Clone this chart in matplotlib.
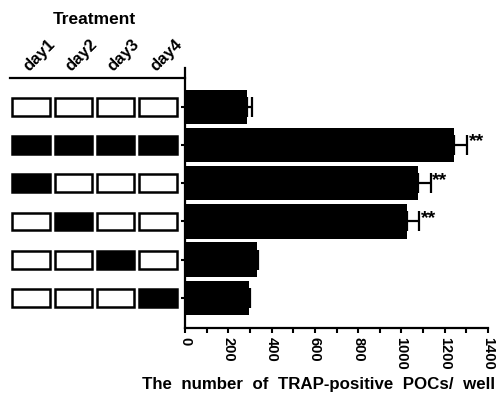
import matplotlib
matplotlib.use('Agg')
import matplotlib.pyplot as plt
from matplotlib.patches import Rectangle
import numpy as np

plt.rcParams['font.family'] = ['Liberation Sans', 'DejaVu Sans']
plt.rcParams['font.weight'] = 'bold'

# data
days = ['day1', 'day2', 'day3', 'day4']
treatment = [[0, 0, 0, 0],
             [1, 1, 1, 1],
             [1, 0, 0, 0],
             [0, 1, 0, 0],
             [0, 0, 1, 0],
             [0, 0, 0, 1]]
counts = [285, 1243, 1077, 1024, 331, 297]
errs = [23, 59, 58, 57, 6, 5]
stars = ['', '**', '**', '**', '', '']
xticks = [0, 200, 400, 600, 800, 1000, 1200, 1400]

fig = plt.figure(figsize=(5.01, 3.94), dpi=100)
W, H = 501, 394

ax = fig.add_axes([185 / W, (H - 328) / H, (488 - 185) / W, (328 - 68) / H])
ax_t = fig.add_axes([10 / W, (H - 328) / H, (185 - 10) / W, (328 - 68) / H], sharey=ax)

y = np.arange(len(counts))
ax.barh(y, counts, height=0.9, color='black',
        xerr=[np.zeros(len(errs)), errs],
        error_kw=dict(ecolor='black', elinewidth=1.6, capsize=7, capthick=1.6))
for yi, c, e, s in zip(y, counts, errs, stars):
    if s:
        ax.text(c + e + 8, yi - 0.08, s, fontsize=14, fontweight='bold',
                ha='left', va='center')

ax.set_ylim(5.79, -1.02)
ax.set_xlim(0, 1400)
ax.set_xticks(xticks)
ax.set_xticks(np.arange(100, 1400, 200), minor=True)
ax.set_xticklabels([str(t) for t in xticks], rotation=270, fontsize=10.5,
                   fontweight='bold')
ax.tick_params(axis='x', which='both', direction='out', length=3.5, width=1.5, pad=3)
ax.set_yticks(y)
ax.tick_params(axis='y', direction='out', length=3, width=1.5, labelleft=False)
for side in ['top', 'right']:
    ax.spines[side].set_visible(False)
for side in ['left', 'bottom']:
    ax.spines[side].set_linewidth(1.6)
fig.text(319 / W, 1 - 385 / H, 'The  number  of  TRAP-positive  POCs/  well',
         ha='center', va='center', fontsize=12.2, fontweight='bold')

# treatment schedule boxes
ax_t.set_xlim(0, 4.14)
ax_t.axis('off')
bw, bh = 0.89, 0.47
for i, row in enumerate(treatment):
    for j, on in enumerate(row):
        ax_t.add_patch(Rectangle((j + 0.5 - bw / 2, i - bh / 2), bw, bh,
                                 facecolor='black' if on else 'white',
                                 edgecolor='black', linewidth=1.8))
ax_t.plot([0, 4.14], [-0.76, -0.76], color='black', lw=1.6, clip_on=False)
for j, d in enumerate(days):
    ax_t.text(j + 0.5, -0.85, d, rotation=45, rotation_mode='anchor',
              ha='left', va='bottom', fontsize=12, fontweight='bold')
fig.text(94 / W, 1 - 20 / H, 'Treatment', ha='center', va='center',
         fontsize=12.5, fontweight='bold')

fig.savefig('out.png', dpi=100)
